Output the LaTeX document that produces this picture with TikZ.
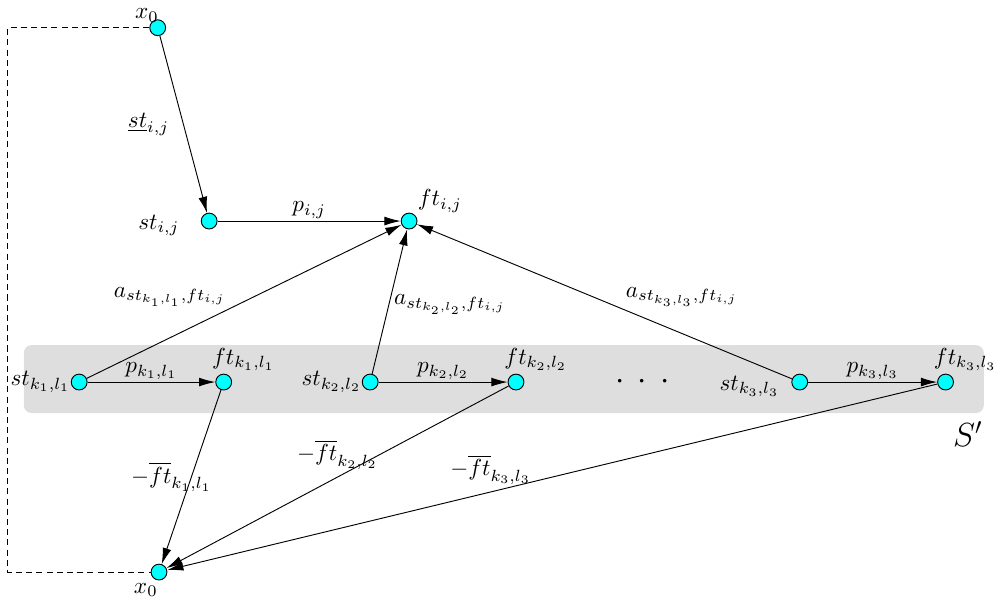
\documentclass[tikz,border=0pt]{standalone}
\usepackage{amssymb,amsmath}
\usepackage{tikz}
\usetikzlibrary{shapes}
\usetikzlibrary{arrows.meta}
\definecolor{aqua}{RGB}{0,255,255}

\begin{document}
\begin{tikzpicture}[>={Latex[length=7pt,width=3.8pt]}]
    \tikzstyle{event}=[circle, draw, fill=aqua, inner sep=0pt, minimum size=0.24cm]
    \tikzstyle{edge}=[->,draw]
    \tikzstyle{blank}=[rectangle, inner sep=1pt]
    \tikzstyle{group}=[fill=black!13, rounded corners=0.12cm]
    \useasboundingbox (0,0) rectangle (15.11,-9.09);
    \fill[group] (0.36,-5.23) rectangle (14.91,-6.26);
    \node[blank] (sprime) at (14.67,-6.58) {\Large $S'$};
    \node[event, label={[blank, label distance=-2pt, xshift=0.1cm]135:$x_0$}] (x0top) at (2.39,-0.42) {};
    \node[event, label={[blank, label distance=8pt, yshift=-2pt]left:$st_{i,j}$}] (stij) at (3.17,-3.35) {};
    \node[event, label={[blank]45:$ft_{i,j}$}] (ftij) at (6.20,-3.35) {};
    \node[event, label={[blank, inner sep=0pt]left:$st_{k_1,l_1}$}] (stk1) at (1.20,-5.79) {};
    \node[event, label={[blank, xshift=0.3cm]above:$ft_{k_1,l_1}$}] (ftk1) at (3.39,-5.79) {};
    \node[event, label={[blank, inner sep=0pt]left:$st_{k_2,l_2}$}] (stk2) at (5.61,-5.79) {};
    \node[event, label={[blank, xshift=0.3cm]above:$ft_{k_2,l_2}$}] (ftk2) at (7.82,-5.79) {};
    \node[blank] (dots) at (9.74,-5.79) {\Large$\cdot\,\cdot\,\cdot$};
    \node[event, label={[blank, label distance=4pt, yshift=-2pt]left:$st_{k_3,l_3}$}] (stk3) at (12.12,-5.79) {};
    \node[event, label={[blank, xshift=0.3cm]above:$ft_{k_3,l_3}$}] (ftk3) at (14.33,-5.79) {};
    \node[event, label={[blank, xshift=-0.2cm]below:$x_0$}] (x0bot) at (2.41,-8.67) {};
    % loop back to the source
    \coordinate (back) at (0.12,0);
    \draw[dash pattern=on 2.6pt off 1.8pt] (x0top.west) -- (x0top.west -| back) |- (x0bot.west);
    % job i,j
    \draw[edge] (x0top) -- node[blank, left=5pt] {$\underline{st}_{i,j}$} (stij);
    \draw[edge] (stij) -- node[blank, above] {$p_{i,j}$} (ftij);
    % jobs of S'
    \draw[edge] (stk1) -- node[blank, above] {$p_{k_1,l_1}$} (ftk1);
    \draw[edge] (stk2) -- node[blank, above] {$p_{k_2,l_2}$} (ftk2);
    \draw[edge] (stk3) -- node[blank, above] {$p_{k_3,l_3}$} (ftk3);
    \draw[edge] (stk1) -- node[blank, pos=0.45, above left] {$a_{st_{k_1,l_1},ft_{i,j}}$} (ftij);
    \draw[edge] (stk2) -- node[blank, pos=0.48, right, inner sep=2pt] {$a_{st_{k_2,l_2},ft_{i,j}}$} (ftij);
    \draw[edge] (stk3) -- node[blank, pos=0.45, above right] {$a_{st_{k_3,l_3},ft_{i,j}}$} (ftij);
    \draw[edge] (ftk1) -- node[blank, midway, xshift=-0.3cm] {$-\overline{ft}_{k_1,l_1}$} (x0bot);
    \draw[edge] (ftk2) -- node[blank, midway, above, inner sep=3pt] {$-\overline{ft}_{k_2,l_2}$} (x0bot);
    \draw[edge] (ftk3) -- node[blank, pos=0.58, above, inner sep=3pt] {$-\overline{ft}_{k_3,l_3}$} (x0bot);
\end{tikzpicture}
\end{document}
